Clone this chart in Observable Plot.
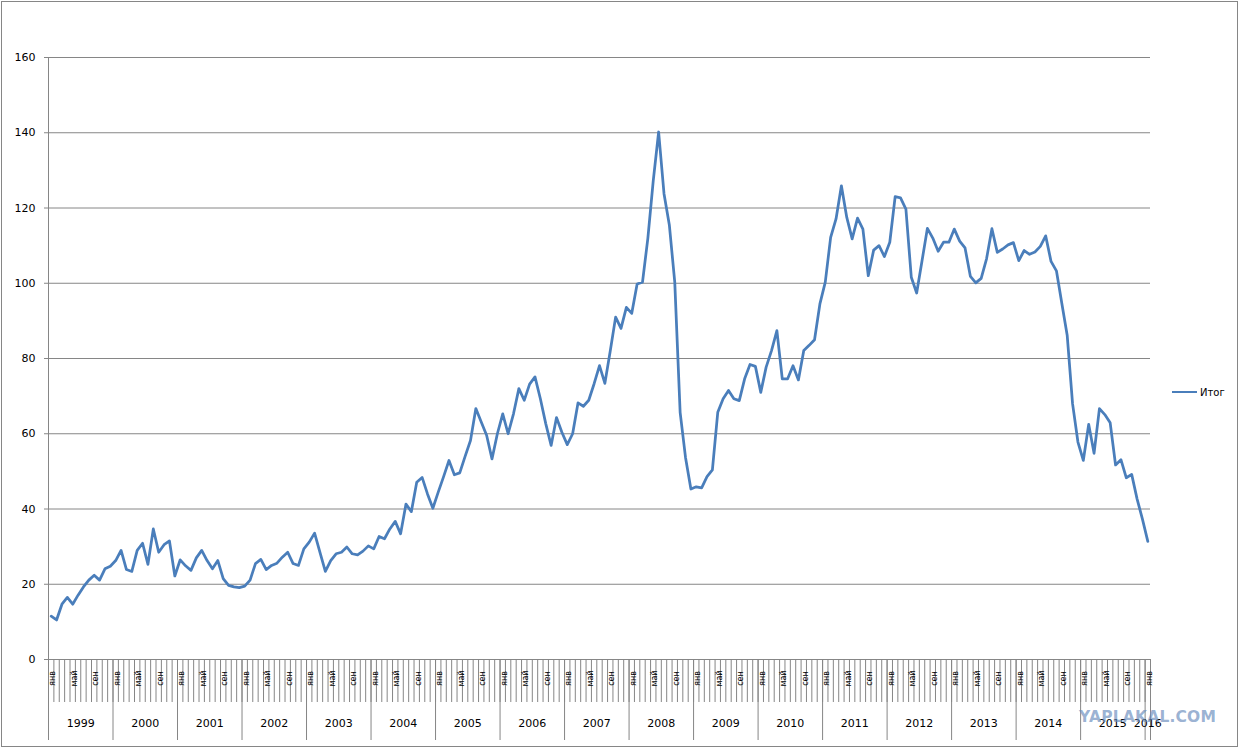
<!DOCTYPE html>
<html><head><meta charset="utf-8">
<script src="https://cdn.jsdelivr.net/npm/d3@7"></script>
<script src="https://cdn.jsdelivr.net/npm/@observablehq/plot@0.6"></script>
<style>
body{margin:0;background:#fff;}
#wrap{position:relative;width:1241px;height:748px;overflow:hidden;font-family:"DejaVu Sans",sans-serif;background:#fff;}
#frame{position:absolute;left:1px;top:1px;width:1235px;height:744px;border:1px solid #868686;pointer-events:none;}
#legend{position:absolute;left:1172px;top:386px;height:14px;font-size:10px;line-height:14px;color:#000;white-space:nowrap;}
#legend .sw{display:inline-block;width:25px;height:0;border-top:2.75px solid #4A7EBB;vertical-align:middle;margin-right:3px;position:relative;top:-1px;}
#wm{position:absolute;left:1079px;top:708px;font-size:15.5px;font-weight:bold;color:rgba(105,140,188,0.68);letter-spacing:0.2px;white-space:nowrap;}
#chart{position:absolute;left:0;top:0;}
</style></head>
<body>
<div id="wrap"><div id="chart"></div><div id="frame"></div>
<div id="legend"><span class="sw"></span>Итог</div>
<div id="wm">YAPLAKAL.COM</div></div>
<script>
const years = [1999,2000,2001,2002,2003,2004,2005,2006,2007,2008,2009,2010,2011,2012,2013,2014,2015,2016];
const monthTickLabels = ["янв","май","сен"];
const yTicks = [0,20,40,60,80,100,120,140,160];
const seriesName = "Итог";
const values = [
 11.5,10.5,14.7,16.5,14.7,17.1,19.3,21.1,22.4,21.1,24.1,24.8,
 26.3,29.0,23.9,23.4,29.0,30.9,25.3,34.7,28.5,30.5,31.5,22.2,
 26.5,24.9,23.7,27.0,29.0,26.3,24.1,26.3,21.5,19.7,19.3,19.1,
 19.5,21.1,25.5,26.6,23.9,25.0,25.6,27.2,28.5,25.5,25.0,29.4,
 31.2,33.6,28.5,23.4,26.3,28.1,28.5,29.9,28.1,27.8,28.8,30.2,
 29.4,32.7,32.1,34.7,36.7,33.4,41.3,39.3,47.1,48.4,44.0,40.2,
 44.5,48.6,52.9,49.1,49.6,54.0,58.2,66.7,63.1,59.6,53.3,60.0,
 65.3,60.0,65.3,72.0,68.9,73.2,75.1,69.3,62.7,56.9,64.3,60.4,
 57.1,60.0,68.2,67.3,68.9,73.3,78.1,73.4,82.0,91.0,88.0,93.6,
 92.0,99.8,100.3,112.0,127.3,140.2,123.8,115.4,100.3,65.7,53.7,45.3,
 45.9,45.6,48.6,50.4,65.7,69.3,71.5,69.3,68.8,74.6,78.4,77.9,
 71.0,77.7,82.1,87.4,74.6,74.6,78.1,74.3,82.1,83.5,85.0,94.5,
 100.3,112.2,117.1,125.9,117.5,111.8,117.3,114.4,102.0,108.8,110.0,107.1,
 110.9,123.0,122.7,119.7,101.6,97.4,106.0,114.6,112.0,108.5,110.9,110.9,
 114.4,111.2,109.4,101.8,100.1,101.3,106.5,114.5,108.2,109.1,110.2,110.8,
 106.0,108.7,107.7,108.3,109.8,112.6,105.8,103.3,94.7,86.2,68.0,57.8,
 52.9,62.5,54.8,66.7,65.1,62.9,51.7,53.1,48.3,49.2,42.7,37.3,
 31.4
];

const n = values.length;
const idx = d3.range(n);
const boundaries = d3.range(n + 1).map(i => i - 0.5);
const labelIdx = idx.filter(i => i % 4 === 0);
const yearBounds = years.map((y, k) => k * 12 - 0.5).concat([n - 0.5]);
const yearMid = years.map((y, k) => (k * 12 + Math.min(k * 12 + 11, n - 1)) / 2);
const grid = "#868686";

const chart = Plot.plot({
  width: 1241, height: 748,
  marginLeft: 48, marginRight: 91, marginTop: 57, marginBottom: 89,
  x: {type: "linear", domain: [-0.5, n - 0.5], axis: null},
  y: {domain: [0, 160], axis: null},
  style: {fontFamily: "DejaVu Sans", background: "transparent", overflow: "visible", color: "#000"},
  marks: [
    Plot.ruleY(yTicks, {y: d => d, stroke: grid, insetLeft: -4}),
    Plot.ruleX(boundaries, {x: d => d, y1: () => 0, y2: () => 0, insetBottom: -43, stroke: grid}),
    Plot.ruleX(yearBounds, {x: d => d, y1: () => 0, y2: () => 0, insetBottom: -81, stroke: grid}),
    Plot.ruleX([-0.5], {x: d => d, y1: () => 160, y2: () => 0, insetBottom: -81, stroke: grid}),
    Plot.text(yTicks, {frameAnchor: "left", y: d => d, text: d => String(d), textAnchor: "end", lineAnchor: "middle", dx: -13, fontSize: 11, fill: "#000"}),
    Plot.text(labelIdx, {x: i => i, y: () => 0, text: i => monthTickLabels[(i % 12) / 4], rotate: -90, textAnchor: "middle", lineAnchor: "middle", dx: 1.5, dy: 19, fontSize: 8, fill: "#000"}),
    Plot.text(years, {x: (d, k) => yearMid[k], y: () => 0, text: d => String(d), textAnchor: "middle", lineAnchor: "middle", dy: 64, fontSize: 11, fill: "#000"}),
    Plot.line(idx, {x: i => i, y: i => values[i], stroke: "#4A7EBB", strokeWidth: 2.75, strokeLinejoin: "round", strokeLinecap: "round"})
  ]
});
document.getElementById("chart").appendChild(chart);
</script>
</body></html>
